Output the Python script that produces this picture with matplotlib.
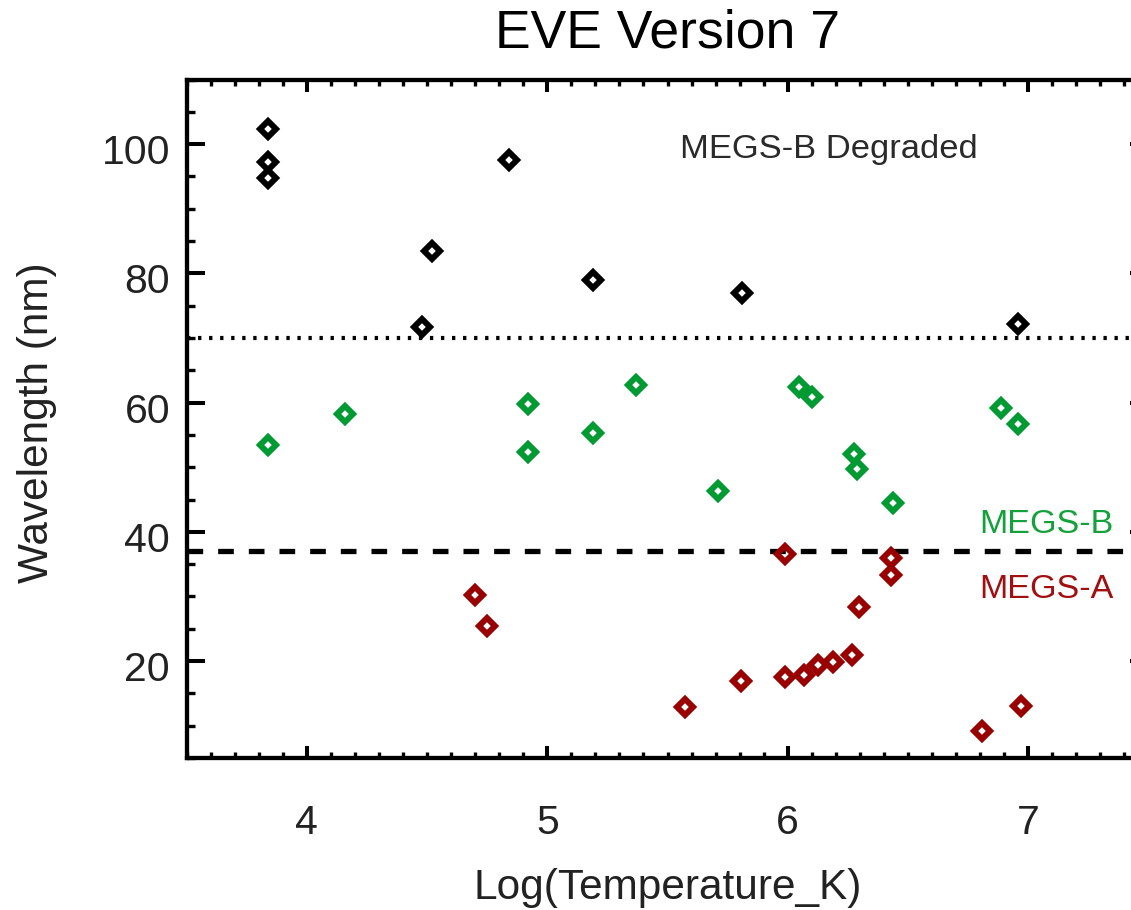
import matplotlib
matplotlib.use("Agg")
import matplotlib.pyplot as plt
from matplotlib.ticker import MultipleLocator
from matplotlib.transforms import ScaledTranslation

plt.rcParams['font.family'] = ['Liberation Sans', 'DejaVu Sans']

# ---- data (log T, wavelength nm) ----
degraded_logt = [3.84, 3.84, 3.84, 4.84, 4.52, 4.48, 5.19, 5.81, 6.96]
degraded_wave = [102.4, 97.2, 94.8, 97.6, 83.4, 71.7, 78.9, 76.9, 72.1]

megsb_logt = [3.84, 4.16, 4.92, 4.92, 5.19, 5.37, 5.71, 6.046, 6.10, 6.277, 6.287, 6.438, 6.887, 6.959]
megsb_wave = [53.5, 58.3, 59.8, 52.4, 55.25, 62.8, 46.3, 62.4, 60.8, 52.0, 49.8, 44.4, 59.1, 56.65]

megsa_logt = [4.70, 4.748, 5.571, 5.807, 5.989, 5.989, 6.069, 6.127, 6.19, 6.269, 6.298, 6.428, 6.428, 6.808, 6.969]
megsa_wave = [30.2, 25.4, 12.95, 16.9, 36.6, 17.5, 17.85, 19.35, 19.9, 20.95, 28.3, 35.9, 33.3, 9.2, 13.05]

boundary_degraded = 70.0
boundary_ab = 37.0

GREEN = '#009a33'
RED = '#990000'
TXT = '#222222'

fig = plt.figure(figsize=(11.31, 9.10), dpi=100)
ax = fig.add_axes([0.1651, 0.1670, 0.8502, 0.7456])
ax.set_xlim(3.5, 7.5)
ax.set_ylim(5, 110)

mk = dict(marker='D', linestyle='none', markersize=7.8, markeredgewidth=4.3,
          markerfacecolor='none', clip_on=False, zorder=4)
ax.plot(degraded_logt, degraded_wave, markeredgecolor='black', **mk)
ax.plot(megsb_logt, megsb_wave, markeredgecolor=GREEN, **mk)
ax.plot(megsa_logt, megsa_wave, markeredgecolor=RED, **mk)

ax.axhline(boundary_degraded, color='black', lw=3.0, linestyle=(0, (0.8, 1.85)), zorder=2)
ax.axhline(boundary_ab, color='black', lw=3.8, linestyle=(0, (2.97, 2.84)), zorder=2)

ax.text(5.550, 97.83, 'MEGS-B Degraded', fontsize=24.8, color='#2a2a2a', ha='left', va='baseline')
ax.text(6.797, 39.78, 'MEGS-B', fontsize=24.6, color='#14a03a', ha='left', va='baseline')
ax.text(6.797, 29.72, 'MEGS-A', fontsize=24.6, color='#a01010', ha='left', va='baseline')

for s in ax.spines.values():
    s.set_linewidth(3.1)
    s.set_color('black')

ax.xaxis.set_major_locator(MultipleLocator(1))
ax.xaxis.set_minor_locator(MultipleLocator(0.1))
ax.yaxis.set_major_locator(MultipleLocator(20))
ax.yaxis.set_minor_locator(MultipleLocator(5))
ax.set_xticks([4, 5, 6, 7])
ax.set_yticks([20, 40, 60, 80, 100])

ax.tick_params(axis='x', which='major', direction='in', length=8.6, width=2.9,
               top=True, bottom=True, labelsize=29.5, labelcolor=TXT, pad=33)
ax.tick_params(axis='x', which='minor', direction='in', length=4.3, width=2.4,
               top=True, bottom=True)
ax.tick_params(axis='y', which='major', direction='in', length=13, width=2.9,
               left=True, right=True, labelsize=29.5, labelcolor=TXT, pad=12)
ax.tick_params(axis='y', which='minor', direction='in', length=6, width=2.4,
               left=True, right=True)

off = ScaledTranslation(0, -5 / 100, fig.dpi_scale_trans)
for lab in ax.get_yticklabels():
    lab.set_transform(lab.get_transform() + off)

ax.set_xlabel('Log(Temperature_K)', fontsize=30.5, color=TXT)
ax.set_ylabel('Wavelength (nm)', fontsize=30.5, color=TXT)
ax.xaxis.set_label_coords(0.5, -0.162)
ax.yaxis.set_label_coords(-0.135, 0.4945)

ax.set_title('EVE Version 7', fontsize=38.5, color='black', pad=23.0)

fig.savefig('out.png', dpi=100)
